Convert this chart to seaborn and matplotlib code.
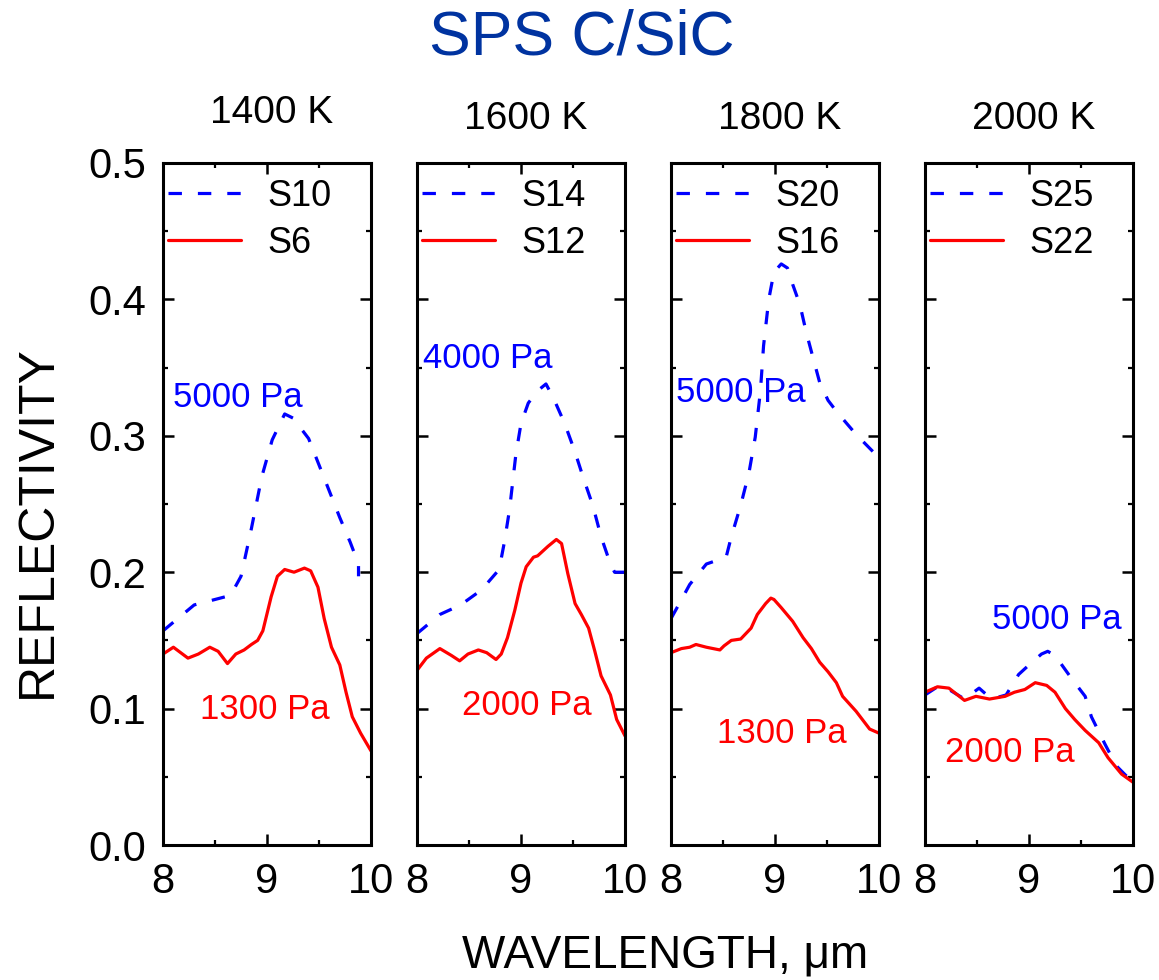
import matplotlib
matplotlib.use("Agg")
import matplotlib.pyplot as plt
import pandas as pd
import seaborn as sns
from matplotlib.lines import Line2D
from matplotlib.ticker import MultipleLocator

# ---- data -------------------------------------------------------------
temperatures = ["1400 K", "1600 K", "1800 K", "2000 K"]
high_p_names = ["S10", "S14", "S20", "S25"]
low_p_names = ["S6", "S12", "S16", "S22"]
high_p_labels = ["5000 Pa", "4000 Pa", "5000 Pa", "5000 Pa"]
low_p_labels = ["1300 Pa", "2000 Pa", "1300 Pa", "2000 Pa"]

# 1400 K
s10_wl = [8.00, 8.30, 8.65, 8.75, 8.85, 8.95, 9.05, 9.17, 9.25, 9.40, 9.55, 9.70, 9.80, 9.88, 9.88]
s10_r = [0.157, 0.176, 0.183, 0.197, 0.232, 0.270, 0.297, 0.316, 0.313, 0.298, 0.269, 0.240, 0.222, 0.206, 0.197]
s6_wl = [8.00, 8.10, 8.24, 8.34, 8.45, 8.53, 8.62, 8.70, 8.78, 8.85, 8.91, 8.96, 9.04, 9.10, 9.17,
         9.26, 9.36, 9.42, 9.49, 9.55, 9.62, 9.70, 9.76, 9.82, 9.90, 10.00]
s6_r = [0.140, 0.145, 0.137, 0.140, 0.145, 0.142, 0.133, 0.140, 0.143, 0.147, 0.150, 0.157, 0.182, 0.197, 0.202,
        0.200, 0.203, 0.201, 0.189, 0.166, 0.145, 0.132, 0.112, 0.094, 0.082, 0.069]

# 1600 K
s14_wl = [8.00, 8.22, 8.42, 8.62, 8.79, 8.84, 8.89, 8.95, 9.00, 9.07, 9.16, 9.24, 9.31, 9.42, 9.52,
          9.60, 9.69, 9.77, 9.86, 9.90, 10.00]
s14_r = [0.155, 0.169, 0.176, 0.187, 0.202, 0.222, 0.246, 0.286, 0.309, 0.324, 0.333, 0.338, 0.328, 0.309, 0.288,
         0.269, 0.249, 0.226, 0.206, 0.200, 0.200]
s12_wl = [8.00, 8.09, 8.22, 8.33, 8.41, 8.49, 8.59, 8.67, 8.76, 8.81, 8.87, 8.94, 9.00, 9.05, 9.12, 9.16,
          9.26, 9.34, 9.39, 9.45, 9.52, 9.58, 9.65, 9.71, 9.77, 9.86, 9.92, 10.00]
s12_r = [0.128, 0.137, 0.144, 0.139, 0.135, 0.140, 0.143, 0.141, 0.136, 0.140, 0.152, 0.172, 0.192, 0.204, 0.211, 0.212,
         0.219, 0.224, 0.221, 0.199, 0.177, 0.169, 0.159, 0.142, 0.124, 0.110, 0.092, 0.080]

# 1800 K
s20_wl = [8.00, 8.08, 8.18, 8.34, 8.53, 8.58, 8.67, 8.75, 8.81, 8.86, 8.89, 8.94, 8.99, 9.06, 9.12, 9.17,
          9.24, 9.30, 9.37, 9.43, 9.51, 9.59, 9.69, 9.78, 9.96]
s20_r = [0.166, 0.177, 0.191, 0.206, 0.211, 0.226, 0.249, 0.273, 0.299, 0.333, 0.366, 0.400, 0.420, 0.426, 0.423, 0.411,
         0.396, 0.376, 0.356, 0.339, 0.326, 0.318, 0.309, 0.301, 0.287]
s16_wl = [8.00, 8.10, 8.18, 8.24, 8.34, 8.47, 8.51, 8.58, 8.67, 8.77, 8.83, 8.91, 8.96, 8.99, 9.06, 9.17,
          9.27, 9.35, 9.43, 9.51, 9.59, 9.65, 9.78, 9.91, 10.00]
s16_r = [0.141, 0.144, 0.145, 0.147, 0.145, 0.143, 0.146, 0.150, 0.151, 0.159, 0.169, 0.177, 0.181, 0.180, 0.174, 0.164,
         0.152, 0.144, 0.134, 0.127, 0.119, 0.109, 0.098, 0.085, 0.082]

# 2000 K
s25_wl = [8.00, 8.14, 8.23, 8.38, 8.52, 8.64, 8.78, 8.90, 9.00, 9.12, 9.18, 9.25, 9.41, 9.54, 9.60, 9.73, 9.84, 9.97]
s25_r = [0.110, 0.117, 0.114, 0.107, 0.115, 0.107, 0.110, 0.125, 0.132, 0.140, 0.142, 0.139, 0.122, 0.109, 0.094,
         0.074, 0.058, 0.048]
s22_wl = [8.00, 8.12, 8.23, 8.28, 8.38, 8.49, 8.62, 8.77, 8.86, 8.96, 9.06, 9.17, 9.25, 9.35, 9.44, 9.54,
          9.67, 9.76, 9.89, 10.00]
s22_r = [0.112, 0.116, 0.115, 0.112, 0.106, 0.109, 0.107, 0.109, 0.112, 0.114, 0.119, 0.117, 0.112, 0.100, 0.092, 0.084,
         0.075, 0.064, 0.052, 0.046]

high_p_wl = [s10_wl, s14_wl, s20_wl, s25_wl]
high_p_r = [s10_r, s14_r, s20_r, s25_r]
low_p_wl = [s6_wl, s12_wl, s16_wl, s22_wl]
low_p_r = [s6_r, s12_r, s16_r, s22_r]

# annotation anchor points (data coordinates) for the pressure labels
high_p_pos = [(8.72, 0.328), (8.68, 0.357), (8.67, 0.332), (9.27, 0.165)]
low_p_pos = [(8.98, 0.099), (9.06, 0.102), (9.07, 0.082), (8.82, 0.068)]

# ---- style ------------------------------------------------------------
sns.set_theme(style="ticks")
plt.rcParams["font.family"] = ["Liberation Sans", "DejaVu Sans"]
plt.rcParams.update({
    "text.color": "black",
    "axes.labelcolor": "black",
    "axes.linewidth": 2.2,
    "axes.edgecolor": "black",
    "xtick.direction": "in",
    "ytick.direction": "in",
    "xtick.top": True,
    "ytick.right": True,
    "xtick.major.size": 8,
    "ytick.major.size": 8,
    "xtick.minor.size": 3.5,
    "ytick.minor.size": 3.5,
    "xtick.major.width": 1.8,
    "ytick.major.width": 1.8,
    "xtick.minor.width": 1.6,
    "ytick.minor.width": 1.6,
    "xtick.color": "black",
    "ytick.color": "black",
    "xtick.labelcolor": "black",
    "ytick.labelcolor": "black",
    "legend.labelcolor": "black",
})

BLUE = "#0000FF"
RED = "#FF0000"
LW = 2.3
DASHES = (4.2, 5.0)

fig = plt.figure(figsize=(11.59, 9.8), dpi=100)
px_w, px_h = 1159.0, 980.0
lefts = [163, 417, 671, 925]
ax_w, top_px, bot_px = 208, 163, 845

for i in range(4):
    ax = fig.add_axes([lefts[i] / px_w, 1 - bot_px / px_h, ax_w / px_w, (bot_px - top_px) / px_h])
    df_hi = pd.DataFrame({"wl": high_p_wl[i], "r": high_p_r[i]})
    df_lo = pd.DataFrame({"wl": low_p_wl[i], "r": low_p_r[i]})
    sns.lineplot(data=df_hi, x="wl", y="r", ax=ax, color=BLUE, lw=LW,
                 estimator=None, sort=False)
    sns.lineplot(data=df_lo, x="wl", y="r", ax=ax, color=RED, lw=LW,
                 estimator=None, sort=False)
    ax.lines[0].set_dashes(DASHES)

    ax.set_xlim(8, 10)
    ax.set_ylim(0, 0.5)
    ax.xaxis.set_major_locator(MultipleLocator(1))
    ax.xaxis.set_minor_locator(MultipleLocator(0.5))
    ax.yaxis.set_major_locator(MultipleLocator(0.1))
    ax.yaxis.set_minor_locator(MultipleLocator(0.05))
    ax.tick_params(axis="x", which="major", labelsize=30, pad=12)
    ax.tick_params(axis="y", which="major", labelsize=30, pad=12)
    ax.set_xticks([8, 9, 10])
    ax.set_xticklabels(["8", "9", "10"])
    if i == 0:
        ax.set_yticks([0.0, 0.1, 0.2, 0.3, 0.4, 0.5])
        ax.set_yticklabels(["0.0", "0.1", "0.2", "0.3", "0.4", "0.5"])
    else:
        ax.tick_params(axis="y", which="both", labelleft=False)
    ax.set_xlabel("")
    ax.set_ylabel("")

    handles = [Line2D([], [], color=BLUE, lw=LW, dashes=DASHES),
               Line2D([], [], color=RED, lw=LW)]
    ax.legend(handles, [high_p_names[i], low_p_names[i]], loc="upper left",
              bbox_to_anchor=(0.0, 0.985), frameon=False, fontsize=26,
              handlelength=2.0, handletextpad=0.75, labelspacing=0.34,
              borderaxespad=0.0, borderpad=0.15, labelcolor="black")

    hx, hy = high_p_pos[i]
    lx, ly = low_p_pos[i]
    ax.text(hx, hy, high_p_labels[i], color=BLUE, fontsize=25, ha="center", va="center")
    ax.text(lx, ly, low_p_labels[i], color=RED, fontsize=25, ha="center", va="center")

    title_y = 113 if i == 0 else 119
    fig.text((lefts[i] + ax_w / 2 + 5) / px_w, 1 - title_y / px_h, temperatures[i],
             fontsize=28, ha="center", va="center", color="black")

fig.text(582 / px_w, 1 - 38 / px_h, "SPS C/SiC", fontsize=45, color="#0033A0",
         ha="center", va="center")
fig.text(38 / px_w, 1 - 522 / px_h, "REFLECTIVITY", fontsize=36, rotation=90,
         ha="center", va="center", color="black")
fig.text(665 / px_w, 1 - 955 / px_h, "WAVELENGTH, \u03bcm", fontsize=33,
         ha="center", va="center", color="black")

fig.savefig("out.png", dpi=100, facecolor="white")
